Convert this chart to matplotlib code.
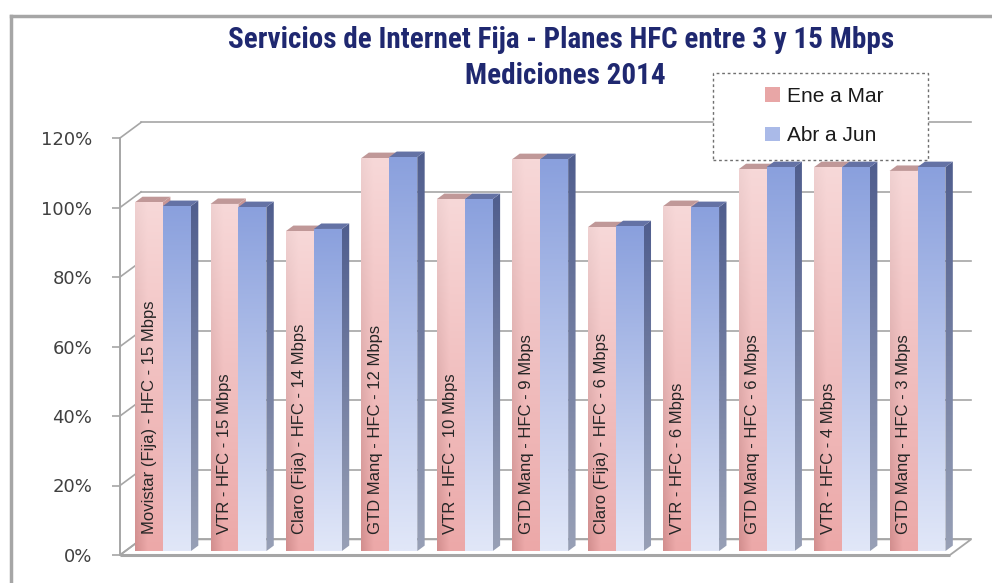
import numpy as np
import matplotlib
matplotlib.use('Agg')
import matplotlib.pyplot as plt
from matplotlib.patches import Polygon, Patch, Rectangle
from matplotlib.lines import Line2D
from matplotlib.ticker import PercentFormatter
from matplotlib import font_manager

# ---- data ----
categories = [
    'Movistar (Fija) - HFC - 15 Mbps',
    'VTR - HFC - 15 Mbps',
    'Claro (Fija) - HFC - 14 Mbps',
    'GTD Manq - HFC - 12 Mbps',
    'VTR - HFC - 10 Mbps',
    'GTD Manq - HFC - 9 Mbps',
    'Claro (Fija) - HFC - 6 Mbps',
    'VTR - HFC - 6 Mbps',
    'GTD Manq - HFC - 6 Mbps',
    'VTR - HFC - 4 Mbps',
    'GTD Manq - HFC - 3 Mbps',
]
ene_mar = [100.4, 99.9, 92.1, 113.1, 101.3, 112.8, 93.2, 99.3, 109.9, 110.5, 109.4]
abr_jun = [99.3, 99.0, 92.7, 113.4, 101.3, 112.8, 93.5, 99.0, 110.5, 110.5, 110.5]
series_names = ['Ene a Mar', 'Abr a Jun']
y_ticks = [0, 20, 40, 60, 80, 100, 120]
title_1 = 'Servicios de Internet Fija - Planes HFC entre 3 y 15 Mbps'
title_2 = 'Mediciones 2014'

installed = {f.name for f in font_manager.fontManager.ttflist}


def pick(*names):
    for n in names:
        if n in installed:
            return n
    return 'DejaVu Sans'


narrow = pick('Liberation Sans Narrow', 'Roboto Condensed', 'Liberation Sans')
sans = pick('Liberation Sans', 'Arimo', 'DejaVu Sans')

W, H = 992, 583
fig = plt.figure(figsize=(W / 100, H / 100), dpi=100)
fig.patch.set_facecolor('white')

# front plane of the 3d box, in pixels
X0_PX, PITCH = 120, 75.45
Y0_PX, PX_PER = 555, 3.475
xlim = (-0.5, 11.0)
ylim = (-1.5, 126.0)
left = (X0_PX + (xlim[0] + 0.5) * PITCH) / W
right = (X0_PX + (xlim[1] + 0.5) * PITCH) / W
bottom = 1 - (Y0_PX - ylim[0] * PX_PER) / H
top = 1 - (Y0_PX - ylim[1] * PX_PER) / H
ax = fig.add_axes([left, bottom, right - left, top - bottom])
ax.set_xlim(xlim)
ax.set_ylim(ylim)
ax.patch.set_visible(False)

# depth of the box (data units) and of the bars
DX, DY = 0.28, 4.5
F0, FD = 0.25, 0.35
BW = 0.37
n = len(categories)
x_end = n - 0.5
grid_c = '#A6A6A6'

# back wall grid + left wall diagonals
for t in y_ticks:
    ax.plot([-0.5 + DX, x_end + DX], [t + DY, t + DY], color=grid_c, lw=1.2, zorder=1)
    ax.plot([-0.5, -0.5 + DX], [t, t + DY], color=grid_c, lw=1.2, zorder=1)

floor = Polygon([(-0.5, 0), (x_end, 0), (x_end + DX, DY), (-0.5 + DX, DY)],
                closed=True, facecolor='white', edgecolor=grid_c, lw=1.3, zorder=0.5)
ax.add_patch(floor)
ax.plot([-0.5, x_end], [0, 0], color=grid_c, lw=2.2, zorder=0.6, solid_capstyle='butt')


def rgb(*c):
    return np.array(c, dtype=float) / 255


def grad_fill(verts, c_top, c_bot, z, left_dark=0.0):
    poly = Polygon(verts, closed=True, facecolor='none', edgecolor='none', zorder=z)
    ax.add_patch(poly)
    xs = [v[0] for v in verts]
    ys = [v[1] for v in verts]
    t = np.linspace(0, 1, 120)[:, None, None]
    img = c_top * (1 - t) + c_bot * t
    img = np.repeat(img, 24, axis=1)
    if left_dark:
        s = np.linspace(0, 1, 24)[None, :, None]
        shade = left_dark * np.clip(1 - s / 0.45, 0, 1) * (0.3 + 0.7 * t)
        img = np.clip(img - shade, 0, 1)
    im = ax.imshow(img, extent=(min(xs), max(xs), min(ys), max(ys)), origin='upper',
                   aspect='auto', interpolation='bilinear', zorder=z)
    im.set_clip_path(poly)


styles = [
    dict(top=rgb(247, 216, 216), bot=rgb(236, 168, 168), dark=0.10,
         s_top=rgb(200, 150, 150), s_bot=rgb(225, 185, 185), cap=rgb(192, 152, 152)),
    dict(top=rgb(138, 160, 221), bot=rgb(225, 231, 248), dark=0.0,
         s_top=rgb(80, 94, 142), s_bot=rgb(152, 160, 182), cap=rgb(100, 114, 165)),
]

z = 3
for i in range(n):
    for k, v in enumerate([ene_mar[i], abr_jun[i]]):
        st = styles[k]
        x0 = i - BW + k * BW + F0 * DX
        x1 = x0 + BW
        y0 = F0 * DY
        y1 = v + F0 * DY
        ex, ey = FD * DX, FD * DY
        grad_fill([(x1, y0), (x1 + ex, y0 + ey), (x1 + ex, y1 + ey), (x1, y1)],
                  st['s_top'], st['s_bot'], z)
        ax.add_patch(Polygon([(x0, y1), (x1, y1), (x1 + ex, y1 + ey), (x0 + ex, y1 + ey)],
                             closed=True, facecolor=st['cap'], edgecolor='none', zorder=z + 0.1))
        grad_fill([(x0, y0), (x1, y0), (x1, y1), (x0, y1)], st['top'], st['bot'], z + 0.2,
                  left_dark=st['dark'])
        z += 0.5
    ax.text(i - BW / 2 + F0 * DX, 6, categories[i], rotation=90, ha='center', va='bottom',
            fontsize=12, family=sans, color='#262626', zorder=50)

# front value axis
for side in ['top', 'right', 'bottom']:
    ax.spines[side].set_visible(False)
ax.spines['left'].set_color(grid_c)
ax.spines['left'].set_linewidth(1.4)
ax.spines['left'].set_bounds(0, 120)
ax.set_xticks([])
ax.set_yticks(y_ticks)
ax.yaxis.set_major_formatter(PercentFormatter(decimals=0))
ax.tick_params(axis='y', direction='out', length=6, width=1.2, color=grid_c,
               labelsize=13, labelcolor='#404040', pad=14)

# titles
navy = '#1F2870'
fig.text(561 / W, 1 - 40 / H, title_1, ha='center', va='center', fontsize=21,
         fontweight='bold', family=narrow, color=navy)
fig.text(565 / W, 1 - 76 / H, title_2, ha='center', va='center', fontsize=21,
         fontweight='bold', family=narrow, color=navy)

# legend with a dashed box
box = Rectangle((713 / W, 1 - 160 / H), 215 / W, 87 / H, transform=fig.transFigure,
                facecolor='white', edgecolor='#707070', lw=1.0, linestyle=(0, (2, 2)), zorder=5)
fig.add_artist(box)
handles = [Patch(facecolor=rgb(232, 166, 166)), Patch(facecolor=rgb(170, 186, 232))]
leg = fig.legend(handles, series_names, loc='center left', bbox_to_anchor=(755 / W, 1 - 116 / H),
                 frameon=False, borderpad=0, handlelength=0.7, handleheight=0.7,
                 handletextpad=0.35, labelspacing=1.0, prop={'family': sans, 'size': 15})
for txt in leg.get_texts():
    txt.set_color('#1A1A1A')
leg.set_zorder(6)

# outer chart frame (only top and left edges show)
fig.add_artist(Line2D([11 / W, 1], [1 - 16 / H, 1 - 16 / H], color='#A6A6A6', lw=2.5,
                      transform=fig.transFigure, zorder=7))
fig.add_artist(Line2D([11 / W, 11 / W], [0, 1 - 16 / H], color='#A6A6A6', lw=2.5,
                      transform=fig.transFigure, zorder=7))

fig.savefig('out.png', dpi=100)
